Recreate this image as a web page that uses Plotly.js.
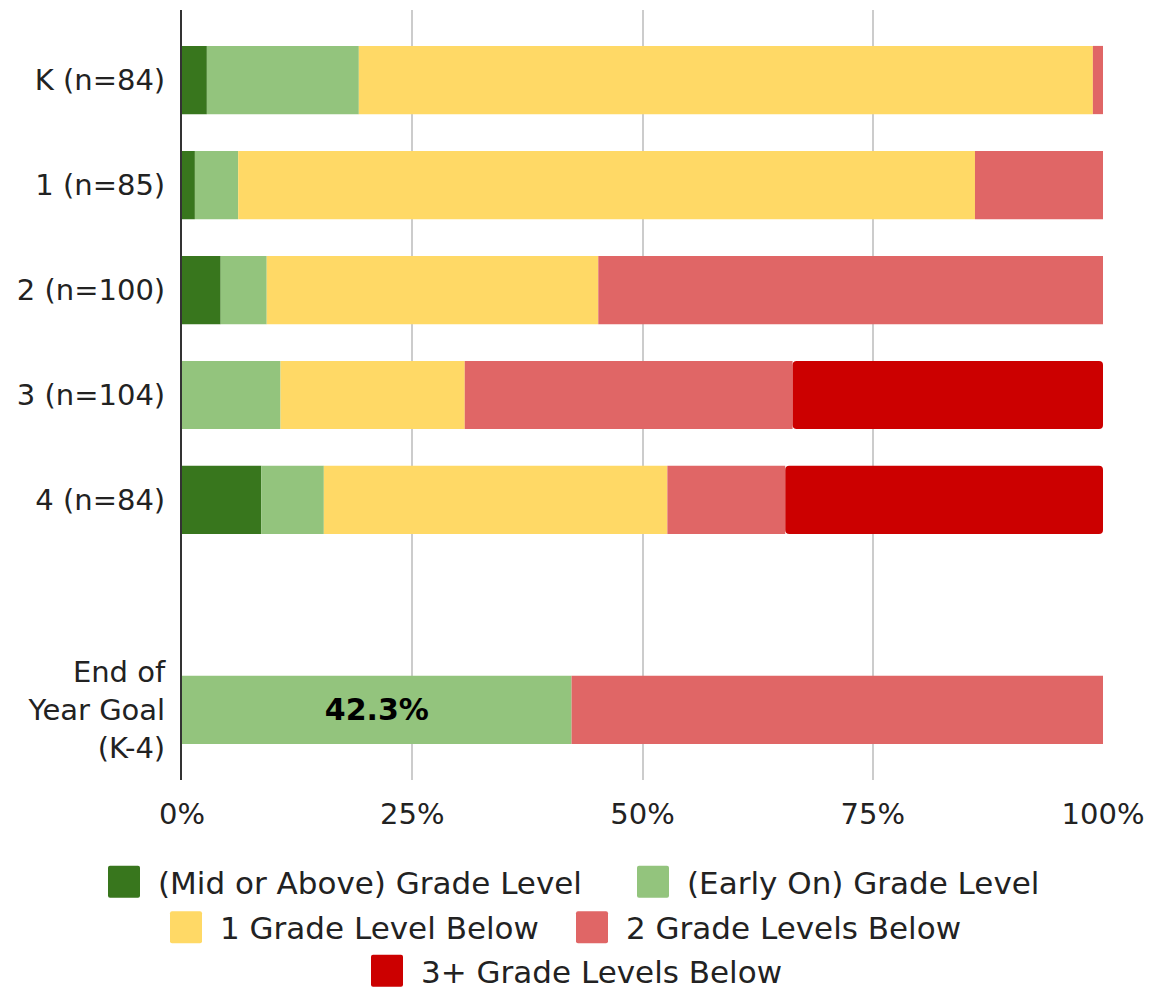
<!DOCTYPE html>
<html>
<head>
<meta charset="utf-8">
<script src="https://cdn.plot.ly/plotly-3.0.1.min.js"></script>
<style>
  html, body { margin: 0; padding: 0; background: #ffffff; }
  #chart { width: 1151px; height: 989px; }
</style>
</head>
<body>
<div id="chart"></div>
<script>
// Row labels and their positions on the (reversed) y axis; row 5 is left empty as a spacer
const rowLabels = ['K (n=84)', '1 (n=85)', '2 (n=100)', '3 (n=104)', '4 (n=84)', 'End of<br>Year Goal<br>(K-4)'];
const rowPos = [0, 1, 2, 3, 4, 6];

// Share of students (%) in each reading level band, per row
const midAbove   = [2.7, 1.4, 4.2, 0,    8.6, 0];
const earlyOn    = [16.5, 4.7, 5.0, 10.7, 6.8, 42.3];
const oneBelow   = [79.7, 80.0, 36.0, 20.0, 37.3, 0];
const twoBelow   = [1.1, 13.9, 54.8, 35.6, 12.8, 57.7];
const threeBelow = [0,   0,    0,    33.7, 34.5, 0];

const seriesNames = [
  '(Mid or Above) Grade Level',
  '(Early On) Grade Level',
  '1 Grade Level Below',
  '2 Grade Levels Below',
  '3+ Grade Levels Below'
];
const seriesColors = ['#38761d', '#93c47d', '#ffd966', '#e06666', '#cc0000'];
const seriesValues = [midAbove, earlyOn, oneBelow, twoBelow, threeBelow];

// one legend box per key entry: [left edge px, vertical centre (container fraction)]
const legendIds = ['legend', 'legend2', 'legend3', 'legend4', 'legend5'];
const legendSpots = [[90, 0.108], [619, 0.108], [152, 0.062], [558, 0.062], [353, 0.018]];

// only the goal row carries a value label
const goalRow = 5;
const earlyOnText = earlyOn.map((v, i) => i === goalRow ? v.toFixed(1) + '%' : '');

const FONT = 'DejaVu Sans, Arial, sans-serif';

// each band starts where the previous ones end, so only the outer band gets rounded ends
const running = rowPos.map(() => 0);
const traces = seriesValues.map((vals, k) => {
  const base = running.slice();
  vals.forEach((v, i) => { running[i] += v; });
  const t = {
    type: 'bar',
    orientation: 'h',
    name: seriesNames[k],
    x: vals,
    base: base,
    y: rowPos,
    width: 0.65,
    marker: { color: seriesColors[k], line: { width: 0 } },
    legend: legendIds[k],
    hoverinfo: 'name+x'
  };
  if (k === 1) {
    t.text = earlyOnText;
    t.textposition = 'inside';
    t.insidetextanchor = 'middle';
    t.textfont = { family: FONT, size: 30, color: '#000000', weight: 'bold' };
  } else {
    t.textposition = 'none';
  }
  if (k === 4) {
    t.marker.cornerradius = 4;
  }
  return t;
});

function legendBox(xLeft, yc) {
  return {
    orientation: 'h',
    xref: 'container', x: xLeft / 1151, xanchor: 'left',
    yref: 'container', y: yc, yanchor: 'middle',
    itemwidth: 58,
    font: { family: FONT, size: 31, color: '#222222' },
    bgcolor: 'rgba(0,0,0,0)',
    itemclick: false, itemdoubleclick: false
  };
}

const layout = {
  width: 1151,
  height: 989,
  paper_bgcolor: '#ffffff',
  plot_bgcolor: '#ffffff',
  margin: { l: 182, r: 48, t: 10, b: 209 },
  barmode: 'overlay',
  showlegend: true,
  font: { family: FONT, size: 29, color: '#222222' },
  xaxis: {
    range: [0, 100],
    tickvals: [0, 25, 50, 75, 100],
    ticktext: ['0%', '25%', '50%', '75%', '100%'],
    showgrid: true,
    gridcolor: '#cccccc',
    gridwidth: 2,
    zeroline: false,
    showline: false,
    ticks: '',
    ticklabelstandoff: 14,
    tickfont: { family: FONT, size: 29, color: '#222222' },
    fixedrange: true
  },
  yaxis: {
    range: [6.667, -0.667],
    tickvals: rowPos,
    ticktext: rowLabels,
    showgrid: false,
    zeroline: false,
    showline: true,
    linecolor: '#333333',
    linewidth: 2,
    ticks: '',
    ticklabelstandoff: 9,
    tickfont: { family: FONT, size: 29, color: '#222222' },
    fixedrange: true
  }
};
legendIds.forEach((id, k) => {
  layout[id] = legendBox(legendSpots[k][0], legendSpots[k][1]);
});

Plotly.newPlot('chart', traces, layout, { displayModeBar: false }).then(() => {
  // larger rounded-square legend swatches
  const sq = 'M-14,-16H14A2,2 0 0 1 16,-14V14A2,2 0 0 1 14,16H-14A2,2 0 0 1 -16,14V-14A2,2 0 0 1 -14,-16Z';
  document.querySelectorAll('g.legendpoints path').forEach(p => {
    p.setAttribute('d', sq);
    p.style.strokeWidth = '0px';
  });
});
</script>
</body>
</html>
